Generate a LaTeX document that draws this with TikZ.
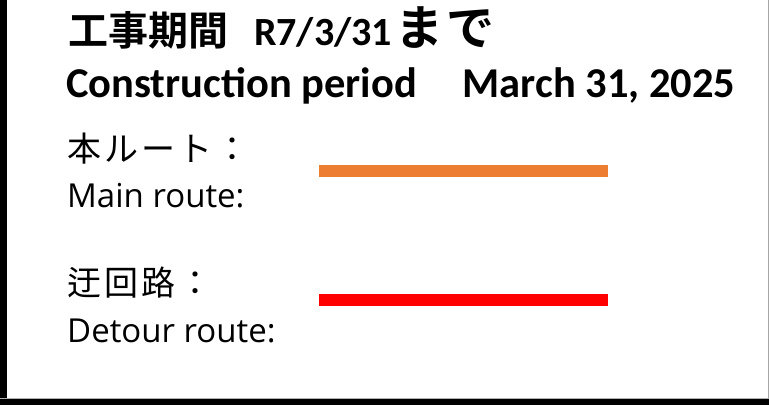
\documentclass[tikz,border=0pt]{standalone}
\usepackage{fontspec}
\setmainfont{Carlito}
\newfontfamily\cjkb{Noto Sans CJK JP}[BoldFont=* Bold]
\newfontfamily\cjk{Noto Sans CJK JP}[LetterSpace=9]
\newfontfamily\lab{Open Sans}
\definecolor{mainor}{HTML}{ED7D31}
\definecolor{detred}{HTML}{FF0000}
\begin{document}
\begin{tikzpicture}[x=1pt,y=-1pt,
  title/.style={anchor=base west,inner sep=0pt,font=\bfseries},
  jlab/.style={anchor=base west,inner sep=0pt,font=\fontsize{34}{34}\selectfont\cjk},
  elab/.style={anchor=base west,inner sep=0pt,font=\fontsize{33}{33}\selectfont\lab},
  route/.style={line width=12pt}]
\useasboundingbox (0,0) rectangle (769,405);
\fill[white] (0,0) rectangle (769,405);
\fill[black] (0,0) rectangle (6.5,405);
\fill[gray!60] (0,397.5) rectangle (769,399);
\fill[black] (0,399) rectangle (769,405);
\draw[gray!70,line width=1pt] (768.5,0) -- (768.5,399);
\node[title,font=\fontsize{40}{40}\selectfont\bfseries] (t1) at (68,45) {{\cjkb\bfseries 工事期間}\hspace{26pt}R7/3/31{\fontsize{48}{48}\selectfont\cjkb\bfseries\hspace{3pt}ま\hspace{3pt}で}};
\node[title,font=\fontsize{42.5}{43}\selectfont\bfseries] (t2) at (66,97) {Construction period\hspace{46pt}March 31, 2025};
\node[jlab] (j1) at (67,161) {本ルート：};
\node[elab] (e1) at (67,207) {Main route:};
\node[jlab] (j2) at (67,295) {迂回路：};
\node[elab] (e2) at (67,342) {Detour route:};
\coordinate (m1) at (319,171);
\coordinate (m2) at (608,171);
\coordinate (d1) at (319,300);
\coordinate (d2) at (608,300);
\draw[route,mainor] (m1) -- (m2);
\draw[route,detred] (d1) -- (d2);
\end{tikzpicture}
\end{document}
